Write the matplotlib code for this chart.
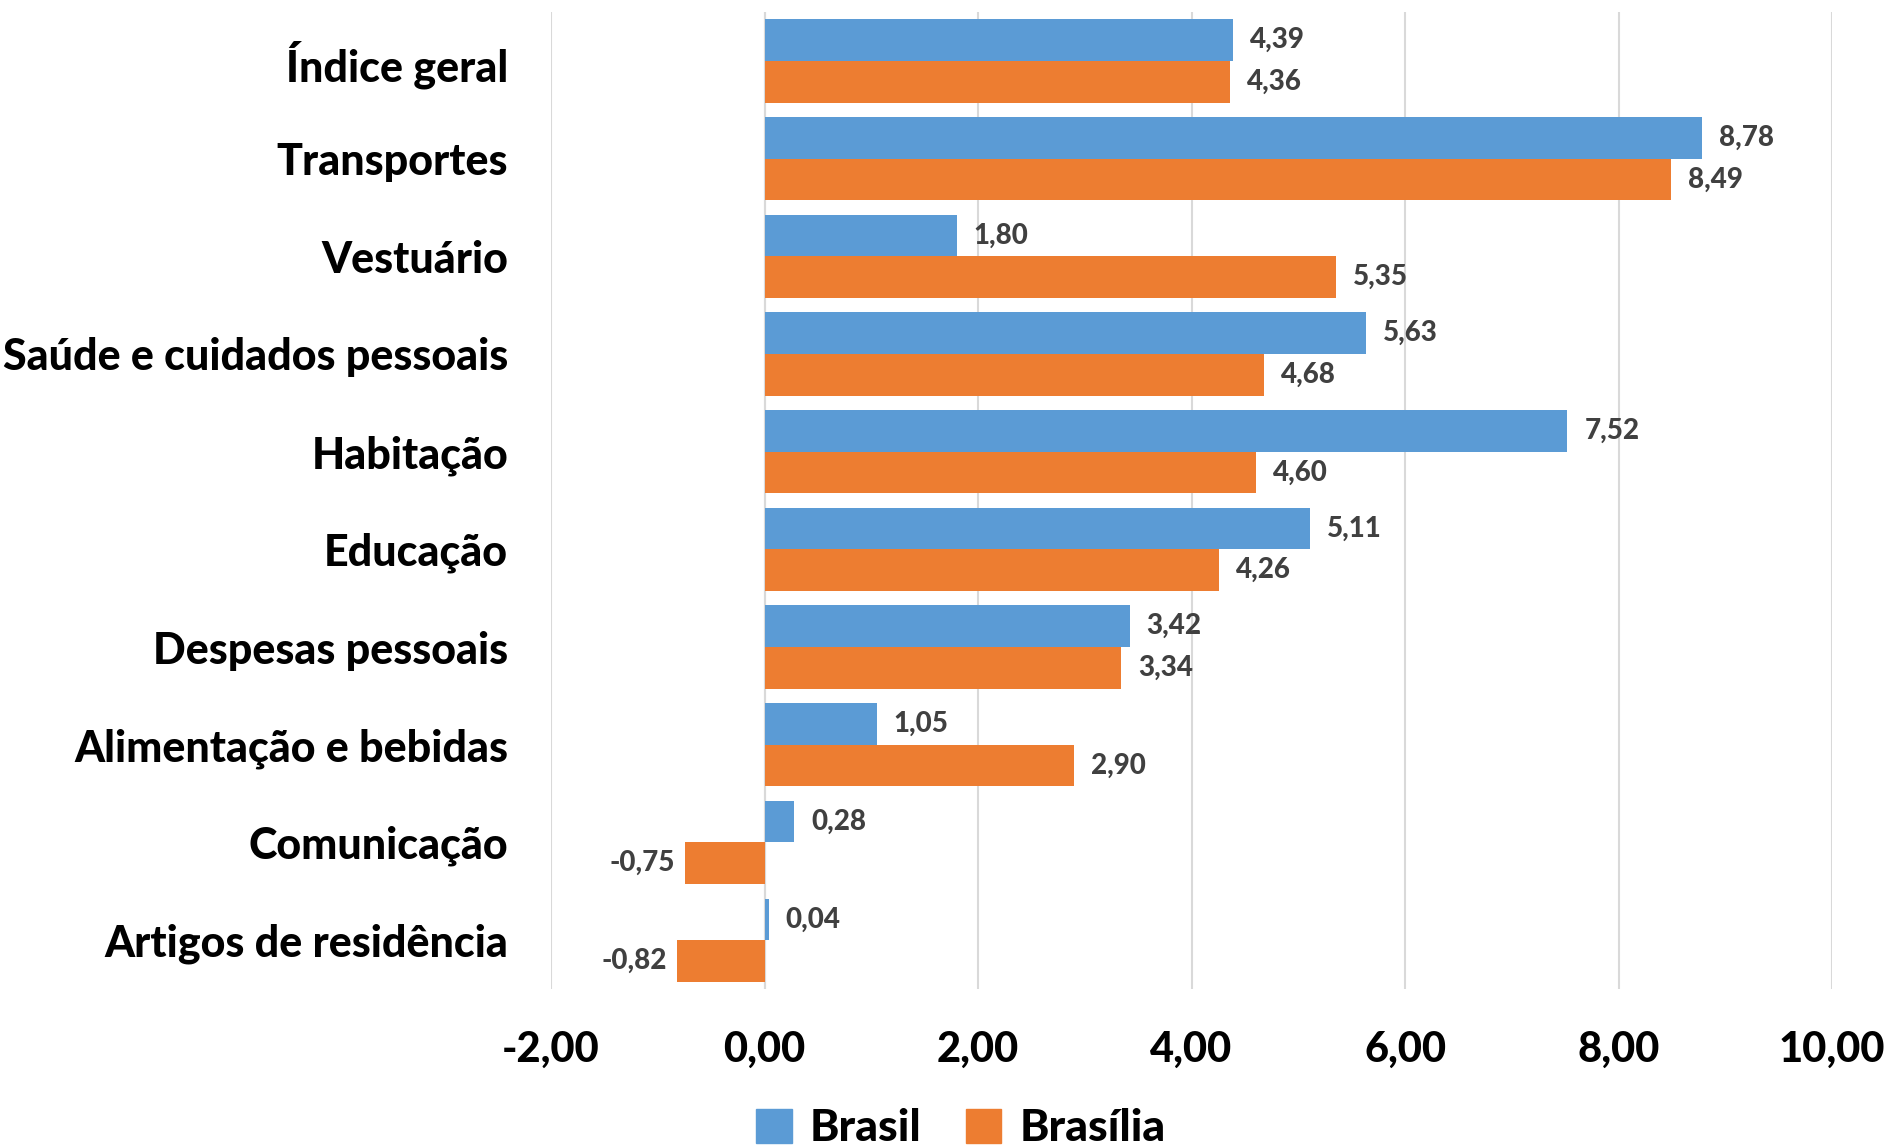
import numpy as np
import matplotlib
matplotlib.use('Agg')
from matplotlib import pyplot as plt
from matplotlib.patches import Patch

plt.rcParams['font.family'] = ['Lato', 'DejaVu Sans']

# dados
categorias = ['Índice geral', 'Transportes', 'Vestuário', 'Saúde e cuidados pessoais',
              'Habitação', 'Educação', 'Despesas pessoais', 'Alimentação e bebidas',
              'Comunicação', 'Artigos de residência']
brasil = [4.39, 8.78, 1.80, 5.63, 7.52, 5.11, 3.42, 1.05, 0.28, 0.04]
brasilia = [4.36, 8.49, 5.35, 4.68, 4.60, 4.26, 3.34, 2.90, -0.75, -0.82]
xticks = [-2, 0, 2, 4, 6, 8, 10]

cor_brasil = '#5B9BD5'
cor_brasilia = '#ED7D31'


def fmt(v):
    return f'{v:.2f}'.replace('.', ',')


fig = plt.figure(figsize=(18.95, 11.48), dpi=100)
ax = fig.add_axes([0.2908, 0.1385, 0.676, 0.851])

y = np.arange(len(categorias))
h = 0.426
ax.barh(y - h / 2, brasil, height=h, color=cor_brasil, zorder=3)
ax.barh(y + h / 2, brasilia, height=h, color=cor_brasilia, zorder=3)

# rótulos de dados
for serie, off in ((brasil, -h / 2), (brasilia, h / 2)):
    for yi, v in zip(y, serie):
        if v >= 0:
            ax.annotate(fmt(v), (v, yi + off), xytext=(17, 0), textcoords='offset pixels',
                        ha='left', va='center', fontsize=20, fontweight='black', color='#404040')
        else:
            ax.annotate(fmt(v), (v, yi + off), xytext=(-10, 0), textcoords='offset pixels',
                        ha='right', va='center', fontsize=20, fontweight='black', color='#404040')

ax.set_xlim(-2, 10)
ax.set_ylim(len(categorias) - 0.5, -0.5)
ax.set_xticks(xticks)
ax.set_xticklabels([fmt(t) for t in xticks], fontsize=30, fontweight='black')
ax.set_yticks(y)
ax.set_yticklabels(categorias, fontsize=31, fontweight='black')
ax.tick_params(axis='x', length=0, pad=30)
ax.tick_params(axis='y', length=0, pad=31)

ax.grid(axis='x', color='#D9D9D9', linewidth=1.5, zorder=0)
ax.axvline(0, color='#D9D9D9', linewidth=1.5, zorder=1)
for s in ax.spines.values():
    s.set_visible(False)

handles = [Patch(color=cor_brasil, label='Brasil'), Patch(color=cor_brasilia, label='Brasília')]
fig.legend(handles=handles, loc='center', bbox_to_anchor=(0.507, 0.017), ncol=2, frameon=False,
           prop={'size': 32, 'weight': 'black'}, handlelength=0.8, handleheight=0.8,
           handletextpad=0.4, columnspacing=1.0)

fig.savefig('out.png', dpi=100)
